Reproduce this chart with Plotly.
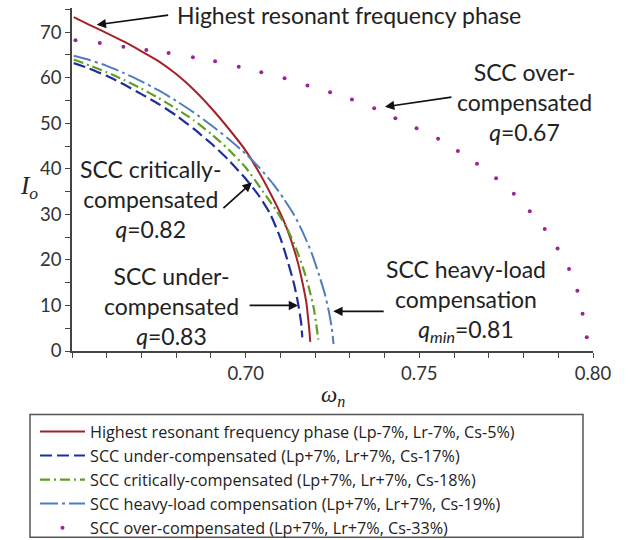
import plotly.graph_objects as go

# ---------------- data ----------------
red_x = [0.6505, 0.655, 0.660, 0.665, 0.670, 0.675, 0.680, 0.685, 0.690, 0.695, 0.700,
         0.704, 0.708, 0.711, 0.713, 0.715, 0.7165, 0.7175, 0.718, 0.7184, 0.7186]
red_y = [73.3, 71.6, 69.8, 67.9, 65.8, 63.6, 60.8, 57.4, 53.4, 48.9, 44.0,
         39.0, 33.3, 28.5, 24.5, 19.5, 14.5, 10.5, 7.0, 4.0, 2.0]

under_x = [0.6505, 0.655, 0.660, 0.665, 0.670, 0.675, 0.680, 0.685, 0.690, 0.695, 0.700,
           0.704, 0.707, 0.710, 0.712, 0.714, 0.7152, 0.716, 0.7163]
under_y = [63.2, 62.0, 60.4, 58.5, 56.4, 54.2, 51.7, 48.8, 45.6, 42.0, 37.8,
           33.9, 30.2, 24.8, 20.0, 14.5, 10.0, 6.0, 3.0]

crit_x = [0.6505, 0.655, 0.660, 0.665, 0.670, 0.675, 0.680, 0.685, 0.690, 0.695, 0.700,
          0.705, 0.709, 0.712, 0.7145, 0.7165, 0.718, 0.7195, 0.7203, 0.7209]
crit_y = [64.0, 62.7, 61.2, 59.5, 57.6, 55.5, 53.2, 50.7, 47.7, 44.3, 40.3,
          35.0, 30.6, 26.8, 22.5, 18.3, 14.5, 9.8, 6.0, 2.5]

heavy_x = [0.6505, 0.655, 0.660, 0.665, 0.670, 0.675, 0.680, 0.685, 0.690, 0.695, 0.700,
           0.704, 0.708, 0.711, 0.714, 0.7165, 0.719, 0.721, 0.7228, 0.724, 0.7248, 0.7253]
heavy_y = [64.8, 63.9, 62.6, 61.0, 59.2, 57.2, 54.9, 52.4, 49.6, 46.6, 43.3,
           40.2, 36.6, 33.4, 29.8, 26.0, 21.5, 17.0, 12.5, 8.5, 5.0, 1.5]

over_x = [0.651, 0.658, 0.6648, 0.6714, 0.6778, 0.6848, 0.6912, 0.698, 0.7045, 0.7112,
          0.7178, 0.7243, 0.7306, 0.737, 0.7431, 0.7492, 0.7554, 0.7611, 0.7666, 0.7721,
          0.7772, 0.7818, 0.7861, 0.7898, 0.7931, 0.7955, 0.797, 0.7982]
over_y = [68.2, 67.6, 66.8, 66.1, 65.4, 64.5, 63.6, 62.4, 61.2, 59.9,
          58.3, 56.8, 55.2, 53.3, 51.1, 48.9, 46.6, 43.9, 41.1, 37.9,
          34.5, 30.7, 26.8, 22.5, 18.0, 13.2, 8.2, 3.0]

series_names = [
    "Highest resonant frequency phase (Lp-7%, Lr-7%, Cs-5%)",
    "SCC under-compensated (Lp+7%, Lr+7%, Cs-17%)",
    "SCC critically-compensated (Lp+7%, Lr+7%, Cs-18%)",
    "SCC heavy-load compensation (Lp+7%, Lr+7%, Cs-19%)",
    "SCC over-compensated (Lp+7%, Lr+7%, Cs-33%)",
]

x_tick_vals = [0.70, 0.75, 0.80]
x_tick_text = ["0.70", "0.75", "0.80"]
y_tick_vals = [0, 10, 20, 30, 40, 50, 60, 70]

FONT = "Lato"
LEGFONT = "Open Sans"
SERIF = "Liberation Serif"

# plot-area geometry in pixels (for paper-coordinate conversions)
PL, PR, PT, PB = 72, 593, 8, 351.5
def px(xp):
    return (xp - PL) / (PR - PL)
def py(yp):
    return (PB - yp) / (PB - PT)

fig = go.Figure()
fig.add_trace(go.Scatter(x=red_x, y=red_y, mode="lines", name=series_names[0],
                         line=dict(color="#A3222A", width=2, shape="spline", smoothing=0.5)))
fig.add_trace(go.Scatter(x=under_x, y=under_y, mode="lines", name=series_names[1],
                         line=dict(color="#1E2F9C", width=2.2, dash="12px,5px",
                                   shape="spline", smoothing=0.5)))
fig.add_trace(go.Scatter(x=crit_x, y=crit_y, mode="lines", name=series_names[2],
                         line=dict(color="#5E9E22", width=2.2, dash="10px,4px,2px,4px",
                                   shape="spline", smoothing=0.5)))
fig.add_trace(go.Scatter(x=heavy_x, y=heavy_y, mode="lines", name=series_names[3],
                         line=dict(color="#4F7DC0", width=2, dash="18px,4px,3px,4px",
                                   shape="spline", smoothing=0.5)))
fig.add_trace(go.Scatter(x=over_x, y=over_y, mode="markers", name=series_names[4],
                         marker=dict(color="#9B239B", size=4)))

ann_font = dict(family=FONT, size=23, color="#222222")
arrow = dict(text="", showarrow=True, arrowhead=2, arrowsize=1.1, arrowwidth=1.7,
             arrowcolor="#111111", xref="x", yref="y")
annotations = [
    # texts
    dict(x=px(175), y=py(15), xref="paper", yref="paper", text="Highest resonant frequency phase",
         showarrow=False, xanchor="left", yanchor="middle", font=ann_font),
    dict(x=px(524), y=py(102), xref="paper", yref="paper",
         text="SCC over-<br>compensated<br><i>q</i>=0.67",
         showarrow=False, xanchor="center", yanchor="middle", font=ann_font),
    dict(x=px(150), y=py(199), xref="paper", yref="paper",
         text="SCC critically-<br>compensated<br><i>q</i>=0.82",
         showarrow=False, xanchor="center", yanchor="middle", font=ann_font),
    dict(x=px(171), y=py(306), xref="paper", yref="paper",
         text="SCC under-<br>compensated<br><i>q</i>=0.83",
         showarrow=False, xanchor="center", yanchor="middle", font=ann_font),
    dict(x=px(466), y=py(301), xref="paper", yref="paper",
         text="SCC heavy-load<br>compensation<br><i>q<sub>min</sub></i>=0.81",
         showarrow=False, xanchor="center", yanchor="middle", font=ann_font),
    # arrows
    dict(x=0.6571, y=71.6, ax=73, ay=-10, **arrow),
    dict(x=0.7401, y=53.6, ax=68, ay=-10, **arrow),
    dict(x=0.7018, y=37.0, ax=-30, ay=27, **arrow),
    dict(x=0.7151, y=10.0, ax=-50, ay=0, **arrow),
    dict(x=0.7252, y=8.7, ax=52, ay=0, **arrow),
    # axis titles
    dict(x=px(29), y=py(188), xref="paper", yref="paper", text="<i>I<sub>o</sub></i>",
         showarrow=False, xanchor="center", yanchor="middle",
         font=dict(family=SERIF, size=25, color="#222222")),
    dict(x=px(333), y=py(397), xref="paper", yref="paper", text="<i>ω<sub>n</sub></i>",
         showarrow=False, xanchor="center", yanchor="middle",
         font=dict(family=SERIF, size=23, color="#222222")),
]

shapes = [
    dict(type="rect", xref="paper", yref="paper",
         x0=px(30), x1=px(583), y0=py(538), y1=py(415),
         line=dict(color="#555555", width=1.5), fillcolor="rgba(0,0,0,0)"),
]

fig.update_layout(
    width=630, height=540,
    margin=dict(l=PL, r=630 - PR, t=PT, b=540 - PB, autoexpand=False),
    paper_bgcolor="white", plot_bgcolor="white",
    font=dict(family=FONT, size=16, color="#333333"),
    annotations=annotations,
    shapes=shapes,
    showlegend=True,
    legend=dict(x=px(35), y=py(415), xanchor="left", yanchor="top",
                bgcolor="rgba(0,0,0,0)", borderwidth=0,
                font=dict(family=LEGFONT, size=16.2, color="#222222"),
                itemwidth=45, tracegroupgap=0),
)
fig.update_xaxes(range=[0.65, 0.80], showgrid=False, zeroline=False,
                 showline=True, linecolor="#444444", linewidth=1.5,
                 tickvals=x_tick_vals, ticktext=x_tick_text,
                 ticks="outside", ticklen=5, tickwidth=1.2, tickcolor="#444444",
                 tickfont=dict(size=18.5),
                 minor=dict(tick0=0.65, dtick=0.01, ticks="outside", ticklen=5,
                            tickwidth=1.2, tickcolor="#444444"))
fig.update_yaxes(range=[0, 75.3], showgrid=False, zeroline=False,
                 showline=True, linecolor="#444444", linewidth=1.5,
                 tickvals=y_tick_vals,
                 ticks="outside", ticklen=5, tickwidth=1.2, tickcolor="#444444",
                 tickfont=dict(size=18.5),
                 minor=dict(tick0=0, dtick=5, ticks="outside", ticklen=5,
                            tickwidth=1.2, tickcolor="#444444"))

fig.write_html("out.html")
